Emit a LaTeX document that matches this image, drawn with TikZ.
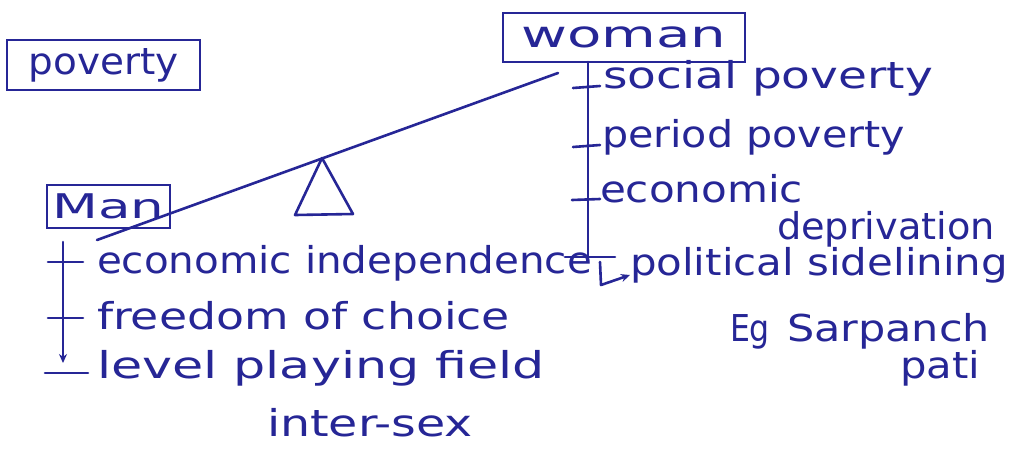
\documentclass[tikz,border=0pt]{standalone}
\usepackage{fontspec}
\setmainfont{DejaVu Sans}
\usepackage{graphicx}
\usetikzlibrary{arrows.meta}
\definecolor{ink}{RGB}{38,38,150}
\newcommand{\fitw}[2]{\resizebox{#1pt}{\height}{#2}}
\begin{document}
\begin{tikzpicture}[x=1pt,y=-1pt,
  every node/.style={inner sep=0pt,outer sep=0pt,text=ink,font=\fontsize{37}{39}\selectfont},
  hw/.style={anchor=base west},
  inkline/.style={draw=ink,line width=2.6pt,line cap=round,line join=round},
  boxnode/.style={draw=ink,line width=2.6pt}]
\useasboundingbox (0,0) rectangle (1018,448);
\fill[white] (0,0) rectangle (1018,448);

% boxes
\node[boxnode,minimum width=193pt,minimum height=50pt] (poverty) at (103.5,65) {\fitw{150}{poverty}};
\node[boxnode,minimum width=242pt,minimum height=49pt] (woman) at (624,37.5) {\fitw{205}{woman}};
\node[boxnode,minimum width=123pt,minimum height=43pt,font=\fontsize{34}{36}\selectfont] (man) at (108.5,206.5) {\fitw{112}{Man}};

% seesaw
\coordinate (sL) at (97,240);
\coordinate (sR) at (558,73);
\draw[inkline] (sL) -- (sR);
\draw[inkline] (322,158) -- (295,215) -- (353,214) -- cycle;

% woman list
\coordinate (wTop) at (588,62);
\coordinate (wBot) at (588,257);
\draw[inkline] (wTop) -- (wBot);
\draw[inkline] (573,88) -- (600,86);
\draw[inkline] (573,147) -- (600,145);
\draw[inkline] (572,200) -- (600,199);
\draw[inkline] (565,257) -- (615,257);

\node[hw] (social) at (603,88) {\fitw{330}{social poverty}};
\node[hw] (period) at (602,147) {\fitw{303}{period poverty}};
\node[hw] (econ) at (600,202) {\fitw{203}{economic}};
\node[hw] (depr) at (777,239) {\fitw{218}{deprivation}};
\node[hw] (polit) at (630,275) {\fitw{378}{political sidelining}};
\node[hw] (eg) at (730,341) {\fitw{40}{Eg}};
\node[hw] (sarp) at (787,341) {\fitw{203}{Sarpanch}};
\node[hw] (pati) at (900,378) {\fitw{80}{pati}};

\coordinate (hook) at (600,262);
\draw[inkline,-{Stealth[length=9pt,width=8pt]}] (hook) -- (601,285) -- (polit.base west);

% man list
\coordinate (mTop) at (63,242);
\coordinate (mEnd) at (63,363);
\draw[inkline,-{Stealth[length=9pt,width=8pt]}] (mTop) -- (mEnd);
\draw[inkline] (48,262) -- (83,262);
\draw[inkline] (48,318) -- (83,318);
\draw[inkline] (45,373) -- (88,373);

\node[hw] (indep) at (97,273) {\fitw{495}{economic independence}};
\node[hw] (free) at (97,329) {\fitw{413}{freedom of choice}};
\node[hw] (level) at (97,378) {\fitw{448}{level playing field}};
\node[hw] (inter) at (267,436) {\fitw{206}{inter-sex}};
\end{tikzpicture}
\end{document}
